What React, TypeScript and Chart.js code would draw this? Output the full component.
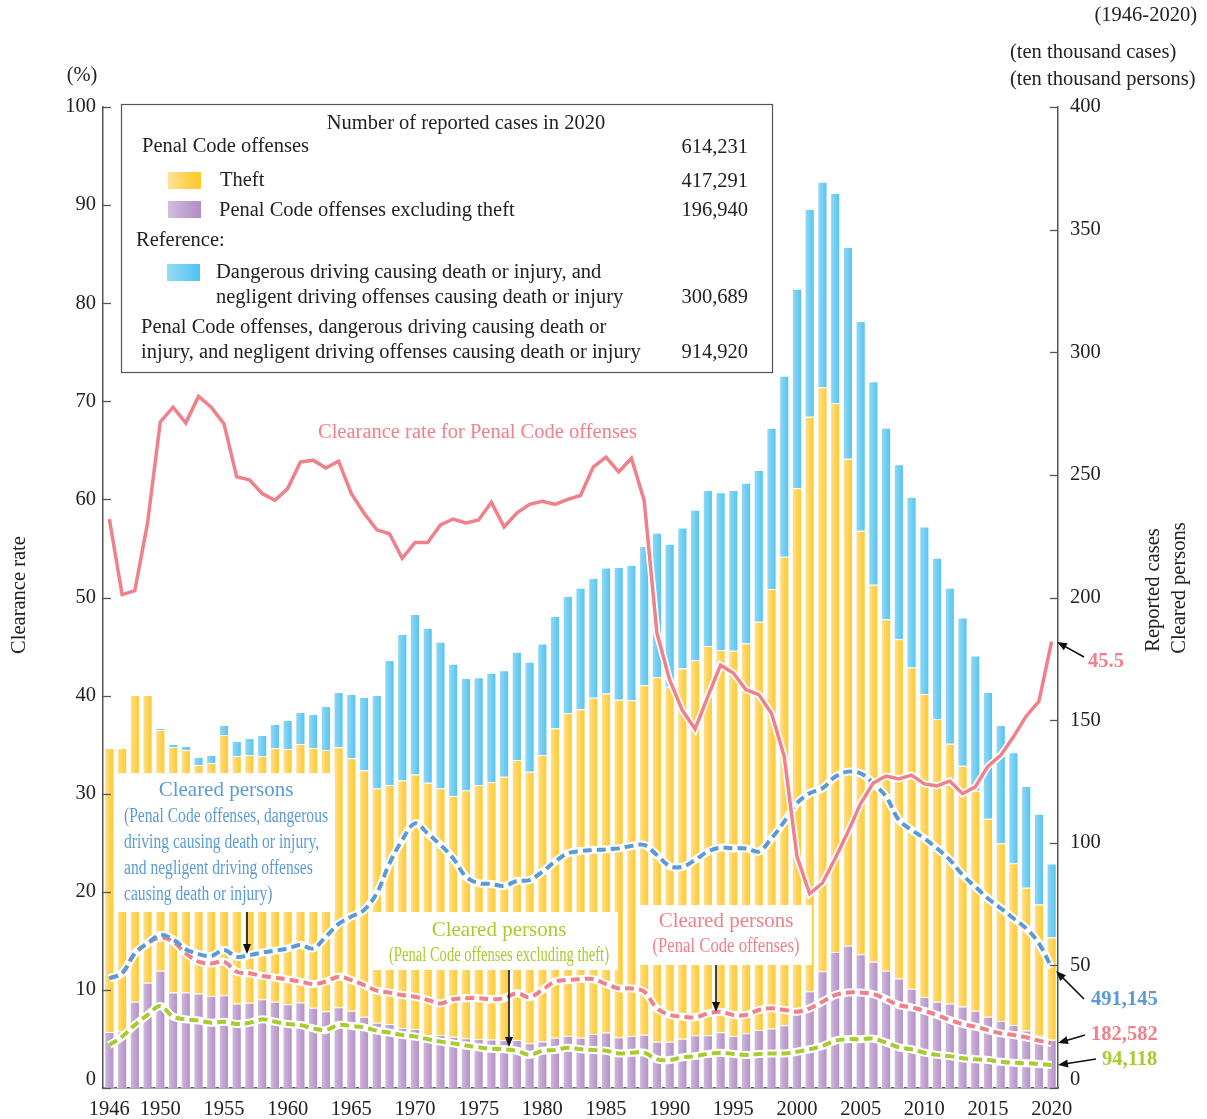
import React, { useEffect, useRef } from "react";
import { Chart, registerables } from "chart.js";

Chart.register(...registerables);

// ---------- DATA ----------
const years: string[] = Array.from({ length: 75 }, (_, i) => String(1946 + i));
const xTickYears: number[] = [1946, 1950, 1955, 1960, 1965, 1970, 1975, 1980, 1985, 1990, 1995, 2000, 2005, 2010, 2015, 2020];

// Reported cases (ten thousand cases)
// Penal Code offenses excluding theft
const nonTheftCases: number[] = [
  22.8, 23.0, 35.2, 42.9, 47.8, 38.9, 38.9, 38.5, 37.5, 37.8,
  34.5, 34.8, 36.2, 35.2, 34.1, 34.9, 32.7, 31.3, 32.9, 31.5,
  29.1, 26.6, 26.1, 24.5, 24.1, 21.6, 21.6, 20.9, 20.3, 20.0,
  19.8, 19.6, 19.6, 18.2, 19.0, 20.5, 21.2, 20.5, 22.0, 22.6,
  20.7, 21.2, 21.7, 18.9, 18.9, 20.1, 21.5, 21.5, 22.7, 21.2,
  22.3, 23.6, 24.3, 25.6, 30.4, 39.4, 47.6, 55.5, 58.0, 54.5,
  51.5, 47.8, 44.6, 40.5, 37.1, 35.2, 34.5, 33.2, 31.5, 29.1,
  27.3, 25.7, 23.4, 21.3, 19.7,
];
// Penal Code offenses (total)
const penalCodeCases: number[] = [
  138.6, 138.6, 160.2, 160.2, 146.0, 139.0, 137.8, 131.7, 132.5, 143.9,
  135.4, 135.8, 135.4, 138.6, 138.2, 140.3, 138.6, 137.8, 138.9, 134.5,
  129.5, 122.2, 123.5, 125.4, 127.8, 124.5, 122.2, 119.1, 121.4, 123.5,
  124.8, 126.9, 133.7, 129.0, 135.8, 146.7, 152.8, 154.4, 159.1, 160.9,
  158.3, 158.1, 164.2, 167.5, 163.6, 171.0, 174.4, 180.2, 178.6, 178.3,
  181.3, 190.1, 203.5, 216.6, 244.5, 273.7, 285.7, 279.3, 256.6, 227.2,
  205.2, 191.1, 183.0, 171.5, 160.7, 150.5, 140.4, 131.4, 121.2, 109.8,
  99.8, 91.6, 81.7, 74.8, 61.4,
];
// Penal Code offenses + dangerous/negligent driving offenses (total)
const allOffenseCases: number[] = [
  138.6, 138.6, 160.2, 160.2, 146.8, 140.3, 139.4, 135.0, 135.8, 148.0,
  141.5, 142.7, 143.9, 148.4, 150.1, 153.3, 152.5, 155.8, 161.5, 160.7,
  159.4, 160.2, 174.5, 185.1, 193.3, 187.7, 182.0, 173.0, 167.2, 167.5,
  169.3, 170.3, 177.9, 173.8, 181.2, 192.5, 200.6, 204.0, 208.0, 212.2,
  212.4, 213.3, 221.0, 226.4, 221.9, 228.5, 235.8, 243.8, 242.9, 243.8,
  246.8, 252.0, 269.2, 290.4, 325.9, 358.4, 369.5, 364.9, 342.9, 312.7,
  288.2, 269.2, 254.3, 241.1, 229.0, 216.2, 204.0, 191.8, 176.3, 161.5,
  148.0, 136.9, 123.1, 111.8, 91.5,
];

// Clearance rate for Penal Code offenses (%)
const clearanceRate: number[] = [
  58.0, 50.3, 50.7, 57.6, 67.9, 69.4, 67.8, 70.5, 69.4, 67.7,
  62.3, 62.0, 60.6, 59.9, 61.1, 63.8, 64.0, 63.2, 63.9, 60.6,
  58.6, 56.9, 56.5, 54.0, 55.6, 55.6, 57.4, 58.0, 57.6, 57.9,
  59.7, 57.2, 58.6, 59.5, 59.8, 59.5, 60.0, 60.4, 63.3, 64.3,
  62.8, 64.2, 59.9, 46.4, 41.6, 38.5, 36.6, 39.9, 43.1, 42.3,
  40.6, 40.1, 38.2, 33.8, 23.6, 19.8, 20.9, 23.4, 26.1, 29.0,
  31.1, 31.8, 31.5, 31.9, 31.0, 30.8, 31.3, 30.0, 30.7, 32.8,
  33.9, 35.8, 37.9, 39.4, 45.5,
];

// Cleared persons (ten thousand persons)
const clearedAll: number[] = [
  44.7, 46.8, 54.9, 59.0, 62.4, 60.6, 56.6, 54.6, 53.8, 56.3,
  53.5, 54.2, 55.2, 56.0, 56.9, 58.3, 56.9, 61.7, 66.9, 69.9,
  72.6, 79.4, 91.6, 101.1, 107.9, 103.8, 99.1, 93.7, 86.2, 83.5,
  83.2, 82.4, 84.4, 84.8, 88.2, 92.3, 95.7, 96.6, 97.0, 97.3,
  97.7, 98.7, 99.1, 95.0, 90.5, 90.2, 93.0, 96.4, 98.0, 97.7,
  97.7, 96.4, 101.8, 108.6, 116.1, 120.2, 122.2, 126.9, 129.0, 128.3,
  124.2, 118.8, 109.3, 105.2, 101.8, 97.7, 93.0, 86.9, 82.1, 77.3,
  73.3, 69.2, 65.1, 59.0, 49.1,
];
const clearedPenal: number[] = [
  44.7, 46.8, 54.9, 59.0, 61.4, 59.7, 54.9, 51.5, 50.8, 51.5,
  47.4, 46.8, 45.7, 45.0, 44.3, 43.4, 42.4, 43.4, 45.4, 44.0,
  42.0, 39.7, 38.9, 37.9, 37.2, 35.9, 34.5, 36.2, 36.6, 36.6,
  36.2, 36.6, 38.6, 37.0, 40.0, 43.4, 44.0, 44.4, 44.4, 42.4,
  40.6, 40.6, 39.3, 32.5, 29.8, 29.1, 28.8, 30.4, 31.1, 29.8,
  29.8, 31.8, 32.5, 31.8, 31.1, 32.5, 35.2, 37.9, 38.9, 38.9,
  38.3, 36.2, 33.8, 32.9, 31.5, 29.8, 27.7, 26.1, 25.0, 23.6,
  22.3, 21.6, 20.7, 19.3, 18.3,
];
const clearedNonTheft: number[] = [
  17.5, 20.9, 25.7, 29.8, 33.4, 29.1, 28.0, 27.5, 26.6, 27.0,
  26.1, 26.6, 28.0, 27.0, 26.1, 25.7, 24.3, 23.6, 25.7, 25.3,
  24.7, 23.4, 22.6, 21.6, 21.0, 19.9, 18.9, 18.2, 17.3, 16.6,
  16.0, 15.8, 15.2, 13.5, 15.2, 15.5, 16.4, 15.8, 15.5, 15.2,
  14.1, 14.4, 14.4, 11.7, 11.4, 12.5, 13.0, 13.9, 14.4, 13.9,
  13.5, 13.9, 14.1, 14.1, 14.8, 15.8, 17.1, 19.3, 19.9, 19.9,
  20.1, 18.5, 16.6, 15.8, 14.4, 13.5, 13.0, 12.1, 11.7, 11.4,
  10.7, 10.3, 10.1, 9.8, 9.4,
];

// ---------- STYLE ----------
const FONT = "'Liberation Serif', 'Times New Roman', Times, serif";
const FS = 20.5;
const YELLOW = "#FFD254";
const YELLOW_L = "#FFE39A";
const YELLOW_D = "#FFC926";
const PURPLE = "#BFA1CF";
const PURPLE_L = "#D3BEDF";
const PURPLE_D = "#B08EC3";
const BLUE = "#70CDF2";
const BLUE_L = "#98DBF6";
const BLUE_D = "#4FC2EF";
const RED = "#F0808A";
const DBLUE = "#5B9BD5";
const GREEN = "#A8CC2E";
const TEXT = "#222";

function barGradient(light: string, dark: string, fallback: string) {
  return (c: any) => {
    const chart = c.chart;
    const xs = chart.scales && chart.scales.x;
    if (!xs || c.dataIndex === undefined || !isFinite(xs.getPixelForValue(c.dataIndex))) return fallback;
    const x = xs.getPixelForValue(c.dataIndex);
    const half = 5.2;
    const g = chart.ctx.createLinearGradient(x - half, 0, x + half, 0);
    g.addColorStop(0, light);
    g.addColorStop(0.55, fallback);
    g.addColorStop(1, dark);
    return g;
  };
}

function drawArrow(ctx: CanvasRenderingContext2D, x1: number, y1: number, x2: number, y2: number) {
  const a = Math.atan2(y2 - y1, x2 - x1);
  const L = 10, W = 4;
  ctx.beginPath();
  ctx.moveTo(x1, y1);
  ctx.lineTo(x2 - (L - 2) * Math.cos(a), y2 - (L - 2) * Math.sin(a));
  ctx.stroke();
  ctx.beginPath();
  ctx.moveTo(x2, y2);
  ctx.lineTo(x2 - L * Math.cos(a) + W * Math.sin(a), y2 - L * Math.sin(a) - W * Math.cos(a));
  ctx.lineTo(x2 - L * Math.cos(a) - W * Math.sin(a), y2 - L * Math.sin(a) + W * Math.cos(a));
  ctx.closePath();
  ctx.fill();
}

function condensed(ctx: CanvasRenderingContext2D, text: string, x: number, y: number, sx: number) {
  ctx.save();
  ctx.translate(x, y);
  ctx.scale(sx, 1);
  ctx.fillText(text, 0, 0);
  ctx.restore();
}

const annotationPlugin = {
  id: "annotations",
  afterDraw(chart: any) {
    const ctx: CanvasRenderingContext2D = chart.ctx;
    const area = chart.chartArea;
    ctx.save();

    // inward tick marks
    ctx.strokeStyle = "#555";
    ctx.lineWidth = 1.3;
    const yL = chart.scales.y;
    yL.ticks.forEach((t: any) => {
      const py = Math.round(yL.getPixelForValue(t.value)) + 0.5;
      ctx.beginPath();
      ctx.moveTo(area.left, py);
      ctx.lineTo(area.left + 8, py);
      ctx.stroke();
    });
    const yR = chart.scales.y1;
    yR.ticks.forEach((t: any) => {
      const py = Math.round(yR.getPixelForValue(t.value)) + 0.5;
      ctx.beginPath();
      ctx.moveTo(area.right - 8, py);
      ctx.lineTo(area.right, py);
      ctx.stroke();
    });

    ctx.textBaseline = "middle";
    ctx.fillStyle = TEXT;
    ctx.font = `${FS}px ${FONT}`;

    // zero labels (sit slightly above the baseline in the original)
    ctx.textAlign = "right";
    ctx.fillText("0", area.left - 7, area.bottom - 8);
    ctx.textAlign = "left";
    ctx.fillText("0", area.right + 12, area.bottom - 8);

    // axis titles / units
    ctx.textAlign = "center";
    ctx.fillText("(%)", 82, 76);
    ctx.save();
    ctx.translate(20, 595);
    ctx.rotate(-Math.PI / 2);
    ctx.fillText("Clearance rate", 0, 0);
    ctx.restore();
    ctx.save();
    ctx.translate(1154, 590);
    ctx.rotate(-Math.PI / 2);
    ctx.fillText("Reported cases", 0, 0);
    ctx.restore();
    ctx.save();
    ctx.translate(1180, 588);
    ctx.rotate(-Math.PI / 2);
    ctx.fillText("Cleared persons", 0, 0);
    ctx.restore();

    ctx.textAlign = "right";
    ctx.fillText("(1946-2020)", 1197, 16);
    ctx.textAlign = "left";
    ctx.fillText("(ten thousand cases)", 1010, 53);
    ctx.fillText("(ten thousand persons)", 1010, 80);

    // legend box
    ctx.fillStyle = "#fff";
    ctx.fillRect(122, 105, 650, 267);
    ctx.strokeStyle = "#555";
    ctx.lineWidth = 1.2;
    ctx.strokeRect(121.5, 104.5, 651, 268);
    ctx.fillStyle = TEXT;
    ctx.textAlign = "center";
    ctx.fillText("Number of reported cases in 2020", 466, 124);
    ctx.textAlign = "left";
    ctx.fillText("Penal Code offenses", 142, 147);
    ctx.fillText("Theft", 220, 181);
    ctx.fillText("Penal Code offenses excluding theft", 219, 211);
    ctx.fillText("Reference:", 136, 241);
    ctx.fillText("Dangerous driving causing death or injury, and", 216, 273);
    ctx.fillText("negligent driving offenses causing death or injury", 216, 298);
    ctx.fillText("Penal Code offenses, dangerous driving causing death or", 141, 328);
    ctx.fillText("injury, and negligent driving offenses causing death or injury", 141, 353);
    ctx.textAlign = "right";
    ctx.fillText("614,231", 748, 148);
    ctx.fillText("417,291", 748, 182);
    ctx.fillText("196,940", 748, 211);
    ctx.fillText("300,689", 748, 298);
    ctx.fillText("914,920", 748, 353);
    const sw = (x: number, y: number, l: string, m: string, d: string) => {
      const g = ctx.createLinearGradient(x, 0, x + 33, 0);
      g.addColorStop(0, l);
      g.addColorStop(0.55, m);
      g.addColorStop(1, d);
      ctx.fillStyle = g;
      ctx.fillRect(x, y, 33, 17);
    };
    sw(168, 172, YELLOW_L, YELLOW, YELLOW_D);
    sw(168, 201, PURPLE_L, PURPLE, PURPLE_D);
    sw(167, 264, BLUE_L, BLUE, BLUE_D);

    // clearance rate label
    ctx.fillStyle = RED;
    ctx.textAlign = "left";
    ctx.fillText("Clearance rate for Penal Code offenses", 318, 433);

    // blue annotation box
    ctx.fillStyle = "#fff";
    ctx.fillRect(117, 773, 218, 139);
    ctx.fillStyle = DBLUE;
    ctx.textAlign = "center";
    ctx.font = `21px ${FONT}`;
    ctx.fillText("Cleared persons", 226, 790);
    ctx.font = `${FS}px ${FONT}`;
    ctx.textAlign = "left";
    const l1 = "(Penal Code offenses, dangerous";
    const sxB = 204 / ctx.measureText(l1).width;
    condensed(ctx, l1, 124, 817, sxB);
    condensed(ctx, "driving causing death or injury,", 124, 843, sxB);
    condensed(ctx, "and negligent driving offenses", 124, 869, sxB);
    condensed(ctx, "causing death or injury)", 124, 895, sxB);

    // green annotation box
    ctx.fillStyle = "#fff";
    ctx.fillRect(373, 912, 245, 58);
    ctx.fillStyle = GREEN;
    ctx.textAlign = "center";
    ctx.font = `21px ${FONT}`;
    ctx.fillText("Cleared persons", 499, 930);
    ctx.font = `${FS}px ${FONT}`;
    const g1 = "(Penal Code offenses excluding theft)";
    const sxG = 220 / ctx.measureText(g1).width;
    condensed(ctx, g1, 499, 956, sxG);

    // pink annotation box
    ctx.fillStyle = "#fff";
    ctx.fillRect(640, 905, 172, 60);
    ctx.fillStyle = RED;
    ctx.font = `21px ${FONT}`;
    ctx.fillText("Cleared persons", 726, 921);
    ctx.font = `${FS}px ${FONT}`;
    const p1 = "(Penal Code offenses)";
    const sxP = 147 / ctx.measureText(p1).width;
    condensed(ctx, p1, 726, 947, sxP);

    // arrows for boxes
    ctx.strokeStyle = "#111";
    ctx.fillStyle = "#111";
    ctx.lineWidth = 1.6;
    drawArrow(ctx, 247, 912, 247, 954);
    drawArrow(ctx, 509, 970, 509, 1047);
    drawArrow(ctx, 716, 965, 716, 1012);

    // right-side value labels
    drawArrow(ctx, 1084, 657, 1057, 642);
    drawArrow(ctx, 1084, 999, 1056, 971);
    drawArrow(ctx, 1085, 1035, 1058, 1043);
    drawArrow(ctx, 1096, 1059, 1058, 1065);
    ctx.font = `bold ${FS}px ${FONT}`;
    ctx.textAlign = "left";
    ctx.fillStyle = RED;
    ctx.fillText("45.5", 1088, 662);
    ctx.fillStyle = DBLUE;
    ctx.fillText("491,145", 1091, 1000);
    ctx.fillStyle = RED;
    ctx.fillText("182,582", 1091, 1035);
    ctx.fillStyle = GREEN;
    ctx.fillText("94,118", 1102, 1060);

    ctx.restore();
  },
};

export default function App() {
  const ref = useRef<HTMLCanvasElement>(null);

  useEffect(() => {
    const theft = penalCodeCases.map((v, i) => +(v - nonTheftCases[i]).toFixed(1));
    const driving = allOffenseCases.map((v, i) => +Math.max(0, v - penalCodeCases[i]).toFixed(1));

    const barCommon = {
      type: "bar" as const,
      yAxisID: "y1",
      stack: "cases",
      order: 10,
      borderColor: "rgba(255,255,255,0.9)",
      borderWidth: 1,
      barPercentage: 0.8,
      categoryPercentage: 1.0,
    };
    const halo = (data: number[], axis: string, order: number, tension: number, width: number) => ({
      type: "line" as const,
      data,
      yAxisID: axis,
      borderColor: "#ffffff",
      borderWidth: width,
      pointRadius: 0,
      tension,
      order,
      fill: false,
    });
    const dashed = (data: number[], color: string, order: number) => ({
      type: "line" as const,
      data,
      yAxisID: "y2",
      borderColor: color,
      borderWidth: 4,
      borderDash: [9, 5],
      pointRadius: 0,
      tension: 0.35,
      order,
      fill: false,
    });

    const tickFont = { family: FONT, size: FS };

    const chart = new Chart(ref.current as HTMLCanvasElement, {
      type: "bar",
      data: {
        labels: years,
        datasets: [
          { ...barCommon, label: "Penal Code offenses excluding theft", data: nonTheftCases, backgroundColor: barGradient(PURPLE_L, PURPLE_D, PURPLE) },
          { ...barCommon, label: "Theft", data: theft, backgroundColor: barGradient(YELLOW_L, YELLOW_D, YELLOW) },
          { ...barCommon, label: "Dangerous/negligent driving", data: driving, backgroundColor: barGradient(BLUE_L, BLUE_D, BLUE) },
          halo(clearedAll, "y2", 8, 0.35, 8),
          halo(clearedPenal, "y2", 8, 0.35, 8),
          halo(clearedNonTheft, "y2", 8, 0.35, 8),
          dashed(clearedAll, DBLUE, 6),
          dashed(clearedPenal, RED, 6),
          dashed(clearedNonTheft, GREEN, 6),
          halo(clearanceRate, "y", 2, 0, 7),
          {
            type: "line",
            label: "Clearance rate",
            data: clearanceRate,
            yAxisID: "y",
            borderColor: RED,
            borderWidth: 3.5,
            pointRadius: 0,
            tension: 0,
            order: 1,
            fill: false,
          },
        ] as any,
      },
      options: {
        responsive: false,
        devicePixelRatio: 1,
        animation: false,
        events: [],
        layout: { padding: { top: 107, left: 0, right: 0, bottom: 0 } },
        plugins: { legend: { display: false }, tooltip: { enabled: false } },
        scales: {
          x: {
            type: "category",
            stacked: true,
            offset: true,
            grid: { display: false, drawTicks: false },
            border: { display: true, color: "#555", width: 1.5 },
            ticks: {
              autoSkip: false,
              maxRotation: 0,
              minRotation: 0,
              padding: 9,
              color: TEXT,
              font: tickFont,
              callback: (_v: any, i: number) => (xTickYears.includes(1946 + i) ? years[i] : ""),
            },
            afterFit: (s: any) => { s.height = 31; },
          },
          y: {
            position: "left",
            min: 0,
            max: 100,
            grid: { display: false, drawTicks: false },
            border: { display: true, color: "#555", width: 1.5 },
            ticks: {
              stepSize: 10, padding: 7, color: TEXT, font: tickFont,
              callback: (v: any) => (v === 0 ? "" : String(v)),
            },
            afterFit: (s: any) => { s.width = 103; },
          },
          y1: {
            position: "right",
            min: 0,
            max: 400,
            stacked: true,
            grid: { display: false, drawTicks: false },
            border: { display: true, color: "#555", width: 1.5 },
            ticks: {
              stepSize: 50, padding: 12, color: TEXT, font: tickFont,
              callback: (v: any) => (v === 0 ? "" : String(v)),
            },
            afterFit: (s: any) => { s.width = 149; },
          },
          y2: { display: false, min: 0, max: 400 },
        },
      } as any,
      plugins: [annotationPlugin],
    });
    return () => chart.destroy();
  }, []);

  return (
    <div style={{ position: "absolute", left: 0, top: 0, width: 1207, height: 1119, background: "#fff" }}>
      <canvas ref={ref} width={1207} height={1119} style={{ display: "block", width: 1207, height: 1119 }} />
    </div>
  );
}
